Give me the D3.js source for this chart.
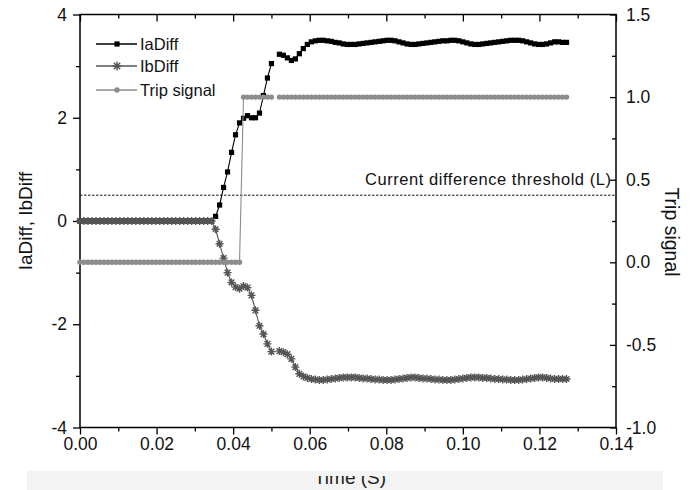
<!DOCTYPE html>
<html>
<head>
<meta charset="utf-8">
<script src="https://cdn.jsdelivr.net/npm/d3@7/dist/d3.min.js"></script>
<style>
  html, body { margin: 0; padding: 0; background: #fff; }
  svg { display: block; font-family: "Liberation Sans", Arial, sans-serif; }
</style>
</head>
<body>
<svg id="chart" width="691" height="490"></svg>
<script>
// Relay samples: 16 samples per 60 Hz cycle
const sampleRate = 960;

// Differential currents (left axis)
const iaDiff = [
  0,0,0,0,0,0,0,0,0,0, 0,0,0,0,0,0,0,0,0,0, 0,0,0,0,0,0,0,0,0,0, 0,0,0,0,
  0.09,0.31,0.65,0.95,1.33,1.67,1.90,1.99,2.04,2.00,2.00,2.09,2.43,2.77,3.05,
  null,
  3.23,3.21,3.16,3.11,3.14,3.24,3.34,3.42,
  3.47,3.49,3.50,3.50,3.49,3.48,3.46,3.45,3.43,3.42,
  3.42,3.42,3.43,3.44,3.45,3.46,3.47,3.48,3.49,3.50,
  3.50,3.49,3.47,3.45,3.43,3.42,3.42,3.43,3.44,3.45,
  3.46,3.47,3.48,3.49,3.49,3.50,3.50,3.49,3.47,3.45,
  3.43,3.42,3.42,3.43,3.44,3.45,3.46,3.47,3.48,3.49,
  3.50,3.50,3.50,3.49,3.47,3.45,3.43,3.42,3.42,3.43,
  3.45,3.47,3.47,3.46,3.46
];

const ibDiff = [
  0,0,0,0,0,0,0,0,0,0, 0,0,0,0,0,0,0,0,0,0, 0,0,0,0,0,0,0,0,0,0, 0,0,0,0,
  -0.16,-0.44,-0.72,-1.00,-1.19,-1.28,-1.31,-1.26,-1.29,-1.44,-1.73,-2.03,-2.19,-2.38,-2.53,
  null,
  -2.52,-2.54,-2.58,-2.67,-2.83,-2.96,-3.01,-3.04,
  -3.06,-3.07,-3.08,-3.08,-3.07,-3.06,-3.05,-3.04,-3.03,-3.03,
  -3.03,-3.03,-3.04,-3.05,-3.05,-3.06,-3.07,-3.07,-3.08,-3.08,
  -3.08,-3.07,-3.06,-3.05,-3.04,-3.03,-3.03,-3.04,-3.05,-3.05,
  -3.06,-3.07,-3.07,-3.08,-3.08,-3.08,-3.07,-3.06,-3.05,-3.04,
  -3.03,-3.03,-3.03,-3.04,-3.04,-3.05,-3.06,-3.06,-3.07,-3.07,
  -3.08,-3.08,-3.08,-3.07,-3.06,-3.05,-3.04,-3.03,-3.03,-3.04,
  -3.05,-3.06,-3.06,-3.06,-3.06
];

// Trip output (right axis)
const tripSignal = [
  0,0,0,0,0,0,0,0,0,0, 0,0,0,0,0,0,0,0,0,0, 0,0,0,0,0,0,0,0,0,0, 0,0,0,0,0,0,0,0,0,0, 0,
  1,1,1,1,1,1,1,1,
  null,
  1,1,1,1,1,1,1,1,1,1, 1,1,1,1,1,1,1,1,1,1, 1,1,1,1,1,1,1,1,1,1, 1,1,1,1,1,1,1,1,1,1,
  1,1,1,1,1,1,1,1,1,1, 1,1,1,1,1,1,1,1,1,1, 1,1,1,1,1,1,1,1,1,1, 1,1,1
];

const thresholdL = 0.5;
const thresholdLabel = "Current difference threshold (L)";

const xMajorTicks = [0, 0.02, 0.04, 0.06, 0.08, 0.10, 0.12, 0.14];
const xMinorTicks = [0.01, 0.03, 0.05, 0.07, 0.09, 0.11, 0.13];
const leftMajorTicks = [-4, -2, 0, 2, 4];
const leftMinorTicks = [-3, -1, 1, 3];
const rightMajorTicks = [-1.0, -0.5, 0.0, 0.5, 1.0, 1.5];
const rightMinorTicks = [-0.75, -0.25, 0.25, 0.75, 1.25];

const seriesNames = ["IaDiff", "IbDiff", "Trip signal"];
const xTitle = "Time (S)";
const leftTitle = "IaDiff, IbDiff";
const rightTitle = "Trip signal";

// ---------------------------------------------------------------
const svg = d3.select("#chart");
const W = 691, H = 490;
const plot = { left: 80, right: 616, top: 14.5, bottom: 427.5 };
const narrow = '"Liberation Sans Narrow", "Arial Narrow", "Liberation Sans", sans-serif';

const x = d3.scaleLinear().domain([0, 0.14]).range([plot.left, plot.right]);
const yL = d3.scaleLinear().domain([-4, 4]).range([plot.bottom, plot.top]);
const yR = d3.scaleLinear().domain([-1, 1.5]).range([plot.bottom, plot.top]);

const times = d3.range(iaDiff.length).map(i => i / sampleRate);
const rows = (vals) => vals.map((v, i) => ({ t: times[i], v }));

const colIa = "#000000", colIb = "#555555", colTrip = "#8c8c8c";

// tick label formats with a plain hyphen for negatives
const hyphen = f => d => f(d).replace("\u2212", "-");

// bottom band and clipped axis title
svg.append("rect").attr("x", 27).attr("y", 471).attr("width", 636).attr("height", 19)
  .attr("fill", "#f3f3f3");
svg.append("clipPath").attr("id", "titleClip")
  .append("rect").attr("x", 0).attr("y", 476).attr("width", W).attr("height", H - 476);
svg.append("text").attr("x", (plot.left + plot.right) / 2 + 2).attr("y", 484)
  .attr("text-anchor", "middle").attr("font-size", 19).attr("fill", "#222")
  .attr("clip-path", "url(#titleClip)").text(xTitle);

// axes
function styleAxis(g) {
  g.select(".domain").remove();
  g.selectAll("line").attr("stroke", "#000").attr("stroke-width", 1.3);
  g.selectAll("text").attr("font-family", narrow).attr("font-size", 17.5).attr("fill", "#111");
}
svg.append("g").attr("transform", `translate(0,${plot.bottom})`)
  .call(d3.axisBottom(x).tickValues(xMajorTicks).tickSize(7).tickPadding(3).tickFormat(d3.format(".2f")))
  .call(styleAxis);
svg.append("g").attr("transform", `translate(0,${plot.bottom})`)
  .call(d3.axisBottom(x).tickValues(xMinorTicks).tickSize(4).tickFormat(""))
  .call(styleAxis);
svg.append("g").attr("transform", `translate(0,${plot.top})`)
  .call(d3.axisBottom(x).tickValues(xMajorTicks).tickSize(7).tickFormat(""))
  .call(styleAxis);
svg.append("g").attr("transform", `translate(0,${plot.top})`)
  .call(d3.axisBottom(x).tickValues(xMinorTicks).tickSize(4).tickFormat(""))
  .call(styleAxis);
svg.append("g").attr("transform", `translate(${plot.left},0)`)
  .call(d3.axisLeft(yL).tickValues(leftMajorTicks).tickSize(7).tickPadding(6).tickFormat(hyphen(d3.format("d"))))
  .call(styleAxis);
svg.append("g").attr("transform", `translate(${plot.left},0)`)
  .call(d3.axisLeft(yL).tickValues(leftMinorTicks).tickSize(4).tickFormat(""))
  .call(styleAxis);
svg.append("g").attr("transform", `translate(${plot.right},0)`)
  .call(d3.axisRight(yR).tickValues(rightMajorTicks).tickSize(-6).tickPadding(10).tickFormat(hyphen(d3.format(".1f"))))
  .call(styleAxis);
svg.append("g").attr("transform", `translate(${plot.right},0)`)
  .call(d3.axisRight(yR).tickValues(rightMinorTicks).tickSize(-4).tickFormat(""))
  .call(styleAxis);

// frame
svg.append("rect").attr("x", plot.left).attr("y", plot.top)
  .attr("width", plot.right - plot.left).attr("height", plot.bottom - plot.top)
  .attr("fill", "none").attr("stroke", "#000").attr("stroke-width", 1.5);

// axis titles
svg.append("text").attr("transform", `translate(32,${yL(0)}) rotate(-90)`)
  .attr("text-anchor", "middle").attr("font-size", 19).attr("fill", "#111").text(leftTitle);
svg.append("text").attr("transform", `translate(665,232) rotate(90)`)
  .attr("text-anchor", "middle").attr("font-size", 19.5).attr("fill", "#111").text(rightTitle);

// threshold
svg.append("line").attr("x1", plot.left).attr("x2", plot.right)
  .attr("y1", yL(thresholdL)).attr("y2", yL(thresholdL))
  .attr("stroke", "#111").attr("stroke-width", 1).attr("stroke-dasharray", "2.5,1.5");
svg.append("text").attr("x", 365).attr("y", yL(thresholdL) - 10)
  .attr("font-size", 16.5).attr("fill", "#111").attr("textLength", 246)
  .attr("lengthAdjust", "spacing").text(thresholdLabel);

// series
const lineL = d3.line().defined(d => d.v !== null).x(d => x(d.t)).y(d => yL(d.v));
const lineR = d3.line().defined(d => d.v !== null).x(d => x(d.t)).y(d => yR(d.v));

const ia = rows(iaDiff), ib = rows(ibDiff), trip = rows(tripSignal);

function asteriskPath(s) {
  const a = s * 0.7071;
  return `M${-s},0H${s}M0,${-s}V${s}M${-a},${-a}L${a},${a}M${-a},${a}L${a},${-a}`;
}

// IaDiff
svg.append("path").datum(ia).attr("d", lineL).attr("fill", "none")
  .attr("stroke", colIa).attr("stroke-width", 1.1);
svg.append("g").selectAll("rect").data(ia.filter(d => d.v !== null)).join("rect")
  .attr("x", d => x(d.t) - 2.6).attr("y", d => yL(d.v) - 2.6)
  .attr("width", 5.2).attr("height", 5.2).attr("fill", colIa);

// IbDiff
svg.append("path").datum(ib).attr("d", lineL).attr("fill", "none")
  .attr("stroke", colIb).attr("stroke-width", 1.1);
svg.append("g").selectAll("path").data(ib.filter(d => d.v !== null)).join("path")
  .attr("transform", d => `translate(${x(d.t)},${yL(d.v)})`)
  .attr("d", asteriskPath(4)).attr("fill", "none")
  .attr("stroke", colIb).attr("stroke-width", 1.4);

// Trip signal
svg.append("path").datum(trip).attr("d", lineR).attr("fill", "none")
  .attr("stroke", colTrip).attr("stroke-width", 1.1);
svg.append("g").selectAll("circle").data(trip.filter(d => d.v !== null)).join("circle")
  .attr("cx", d => x(d.t)).attr("cy", d => yR(d.v)).attr("r", 2.7).attr("fill", colTrip);

// legend
const legend = svg.append("g").attr("transform", "translate(96,0)");
const legendRows = [
  { name: seriesNames[0], y: 44, color: colIa, mark: "square" },
  { name: seriesNames[1], y: 66, color: colIb, mark: "star" },
  { name: seriesNames[2], y: 90, color: colTrip, mark: "circle" }
];
legendRows.forEach(r => {
  legend.append("line").attr("x1", 0).attr("x2", 41).attr("y1", r.y).attr("y2", r.y)
    .attr("stroke", r.color).attr("stroke-width", 1.3);
  if (r.mark === "square") {
    legend.append("rect").attr("x", 21 - 2.6).attr("y", r.y - 2.6).attr("width", 5.2).attr("height", 5.2).attr("fill", r.color);
  } else if (r.mark === "star") {
    legend.append("path").attr("transform", `translate(21,${r.y})`).attr("d", asteriskPath(4.5))
      .attr("fill", "none").attr("stroke", r.color).attr("stroke-width", 1.4);
  } else {
    legend.append("circle").attr("cx", 21).attr("cy", r.y).attr("r", 2.7).attr("fill", r.color);
  }
  legend.append("text").attr("x", 44).attr("y", r.y + 6).attr("font-size", 16.5)
    .attr("fill", "#111").text(r.name);
});
</script>
</body>
</html>
